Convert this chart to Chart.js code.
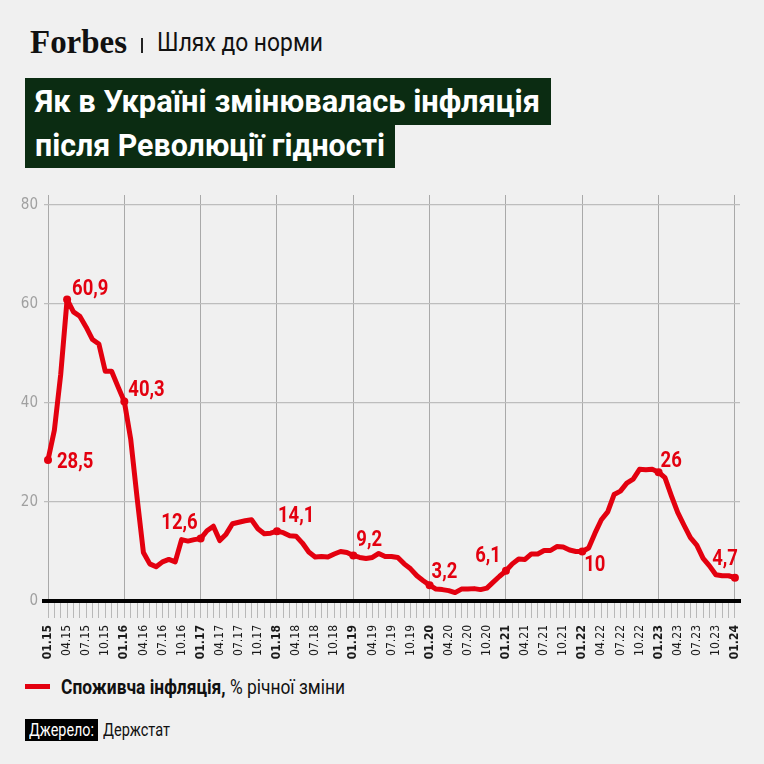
<!DOCTYPE html>
<html>
<head>
<meta charset="utf-8">
<script src="https://cdn.jsdelivr.net/npm/chart.js@4.4.1/dist/chart.umd.min.js"></script>
<style>
  html, body { margin: 0; padding: 0; }
  body { width: 764px; height: 764px; background: #f0f0f0; position: relative; overflow: hidden;
         font-family: "Roboto", "DejaVu Sans Condensed", sans-serif; }
  .abs { position: absolute; white-space: nowrap; }
  .fit { display: inline-block; transform-origin: 0 50%; white-space: nowrap; }
  #logo { left: 30px; top: 22px; font-family: "Liberation Serif", "DejaVu Serif", serif; font-weight: bold;
          font-size: 34px; line-height: 40px; color: #111; }
  #sep { left: 141px; top: 38px; width: 1.5px; height: 15px; background: #222; }
  #rubric { left: 157px; top: 27px; font-size: 25px; line-height: 32px; color: #111; }
  .tbox { background: #0b2c12; color: #fff; font-weight: bold; font-size: 32px; left: 25px; overflow: hidden; }
  .tbox .fit { position: absolute; left: 10px; }
  #t1 { top: 78px; width: 526px; height: 47px; line-height: 47px; }
  #t2 { top: 125px; width: 370px; height: 43px; line-height: 41px; }
  #wrap { left: 0; top: 180px; width: 764px; height: 490px; }
  #legline { left: 25px; top: 684px; width: 25px; height: 5px; background: #e3000f; }
  #legtext { left: 61px; top: 674px; font-size: 20px; line-height: 26px; color: #111; }
  #src { left: 25px; top: 719px; width: 73px; height: 22px; line-height: 22px; background: #000; color: #fff; font-size: 18px; }
  #src .fit { position: absolute; left: 4px; }
  #srcname { left: 103px; top: 719px; line-height: 22px; font-size: 18px; color: #111; }
</style>
</head>
<body>
<div class="abs" id="logo"><span class="fit" data-w="97">Forbes</span></div>
<div class="abs" id="sep"></div>
<div class="abs" id="rubric"><span class="fit" data-w="166">Шлях до норми</span></div>
<div class="abs tbox" id="t1"><span class="fit" data-w="505">Як в Україні змінювалась інфляція</span></div>
<div class="abs tbox" id="t2"><span class="fit" data-w="350">після Революції гідності</span></div>
<div class="abs" id="wrap"><canvas id="lineChart"></canvas></div>
<div class="abs" id="legline"></div>
<div class="abs" id="legtext"><span class="fit" data-w="284"><b>Споживча інфляція,</b> % річної зміни</span></div>
<div class="abs" id="src"><span class="fit" data-w="65">Джерело:</span></div>
<div class="abs" id="srcname"><span class="fit" data-w="67">Держстат</span></div>

<script>
// споживча інфляція, % р/р, щомісяця з 01.15 по 01.24
const inflation = [
  28.5, 34.5, 45.8, 60.9, 58.4, 57.5, 55.3, 52.8, 51.9, 46.4, 46.4, 43.3,   // 2015
  40.3, 32.7, 20.9, 9.8, 7.5, 6.9, 7.9, 8.4, 7.9, 12.4, 12.1, 12.4,          // 2016
  12.6, 14.2, 15.1, 12.2, 13.5, 15.6, 15.9, 16.2, 16.4, 14.6, 13.6, 13.7,    // 2017
  14.1, 13.8, 13.2, 13.1, 11.7, 9.9, 8.9, 9.0, 8.9, 9.5, 10.0, 9.8,          // 2018
  9.2, 8.8, 8.6, 8.8, 9.6, 9.0, 9.0, 8.8, 7.5, 6.5, 5.1, 4.1,                // 2019
  3.2, 2.4, 2.3, 2.1, 1.7, 2.4, 2.4, 2.5, 2.3, 2.6, 3.8, 5.0,                // 2020
  6.1, 7.5, 8.5, 8.4, 9.5, 9.5, 10.2, 10.2, 11.0, 10.9, 10.3, 10.0,          // 2021
  10.0, 10.7, 13.7, 16.4, 18.0, 21.5, 22.2, 23.8, 24.6, 26.6, 26.5, 26.6,    // 2022
  26.0, 24.9, 21.3, 17.9, 15.3, 12.8, 11.3, 8.6, 7.1, 5.3, 5.1, 5.1,         // 2023
  4.7                                                                        // 2024
];

// підписи по осі X кожні 3 місяці
const xTickLabels = [
  "01.15", "04.15", "07.15", "10.15",
  "01.16", "04.16", "07.16", "10.16",
  "01.17", "04.17", "07.17", "10.17",
  "01.18", "04.18", "07.18", "10.18",
  "01.19", "04.19", "07.19", "10.19",
  "01.20", "04.20", "07.20", "10.20",
  "01.21", "04.21", "07.21", "10.21",
  "01.22", "04.22", "07.22", "10.22",
  "01.23", "04.23", "07.23", "10.23",
  "01.24"
];
const yTickValues = [0, 20, 40, 60, 80];

// точки з підписами (індекс місяця)
const markedPoints = [0, 3, 12, 24, 36, 48, 60, 72, 84, 96, 108];

// зсув підписів відносно точки
const labelOffsets = [
  { dx: 9, dy: 3, align: "left" },
  { dx: 5, dy: -10, align: "left" },
  { dx: 4, dy: -11, align: "left" },
  { dx: -3, dy: -15, align: "right" },
  { dx: 1, dy: -15, align: "left" },
  { dx: 3, dy: -15, align: "left" },
  { dx: 2, dy: -13, align: "left" },
  { dx: -5, dy: -14, align: "right" },
  { dx: 2, dy: 14, align: "left" },
  { dx: 2, dy: -11, align: "left" },
  { dx: 3, dy: -18, align: "right" }
];

const AXIS_FONT = '"DejaVu Sans Condensed", "Roboto", sans-serif';
const RED = "#e3000f";

// стискаємо текст по ширині (немає вузького шрифту)
document.querySelectorAll(".fit").forEach((el) => {
  const w = el.getBoundingClientRect().width;
  const target = parseFloat(el.dataset.w);
  el.style.transform = "scaleX(" + (target / w) + ")";
});

const pointLabels = {
  id: "pointLabels",
  afterDatasetsDraw(chart) {
    const ctx = chart.ctx;
    const meta = chart.getDatasetMeta(0);
    ctx.save();
    ctx.fillStyle = RED;
    ctx.font = "bold 22px Roboto, sans-serif";
    ctx.textBaseline = "middle";
    markedPoints.forEach((idx, k) => {
      const pt = meta.data[idx];
      const off = labelOffsets[k];
      const txt = String(inflation[idx]).replace(".", ",");
      ctx.save();
      ctx.translate(pt.x + off.dx, pt.y + off.dy);
      ctx.scale(0.84, 1);
      ctx.textAlign = off.align;
      ctx.fillText(txt, 0, 0);
      ctx.restore();
    });
    ctx.restore();
  }
};

const points = inflation.map((v, i) => ({ x: i, y: v }));

const chart = new Chart(document.getElementById("lineChart"), {
  type: "line",
  data: {
    datasets: [{
      data: points,
      borderColor: RED,
      backgroundColor: RED,
      borderWidth: 5,
      tension: 0,
      borderJoinStyle: "round",
      borderCapStyle: "round",
      pointRadius: (c) => markedPoints.includes(c.dataIndex) ? 4 : 0,
      pointBackgroundColor: RED,
      pointBorderWidth: 0,
      clip: false
    }]
  },
  options: {
    responsive: true,
    maintainAspectRatio: false,
    animation: false,
    layout: { padding: { top: 13, right: 24, left: 0, bottom: 0 } },
    plugins: {
      legend: { display: false },
      tooltip: { enabled: false }
    },
    scales: {
      x: {
        type: "linear",
        min: -0.63,
        max: 108.8,
        afterBuildTicks: (scale) => {
          scale.ticks = inflation.map((v, i) => ({ value: i }));
        },
        afterFit: (scale) => { scale.height = 69; },
        border: { display: true, color: "#000", width: 4, z: 1 },
        grid: {
          color: (c) => (c.tick && c.tick.value % 12 === 0) ? "#a9a9a9" : "rgba(0,0,0,0)",
          tickColor: "#b8b8b8",
          tickLength: 17,
          lineWidth: 1
        },
        ticks: {
          autoSkip: false,
          minRotation: 90,
          maxRotation: 90,
          padding: 7,
          color: "#1a1a1a",
          font: (c) => ({
            family: AXIS_FONT,
            size: 12,
            weight: (c.tick && c.tick.value % 12 === 0) ? "bold" : "normal"
          }),
          callback: (v) => (v % 3 === 0) ? xTickLabels[v / 3] : ""
        }
      },
      y: {
        min: 0,
        max: 82,
        afterBuildTicks: (scale) => {
          scale.ticks = yTickValues.map((v) => ({ value: v }));
        },
        afterFit: (scale) => { scale.width = 44; },
        border: { display: false },
        grid: { color: "#bdbdbd", lineWidth: 1.3, drawTicks: false },
        ticks: {
          padding: 6,
          color: "#a0a0a0",
          font: { family: AXIS_FONT, size: 15 }
        }
      }
    }
  },
  plugins: [pointLabels]
});
</script>
</body>
</html>
